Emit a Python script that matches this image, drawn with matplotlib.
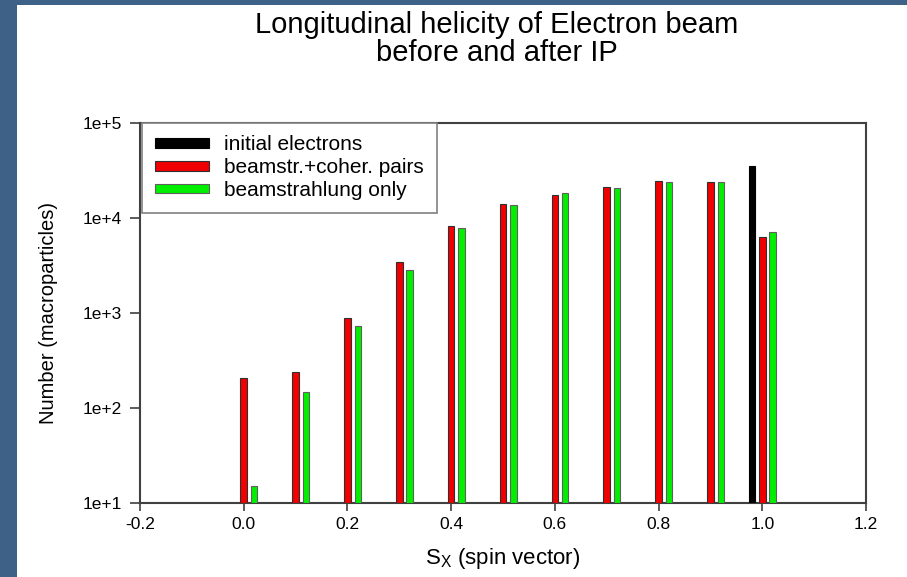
import matplotlib
matplotlib.use("Agg")
import matplotlib.pyplot as plt
from matplotlib.patches import Rectangle
from matplotlib.ticker import FixedLocator, FixedFormatter, NullLocator

plt.rcParams['font.family'] = ['Liberation Sans', 'DejaVu Sans']

# Data
initial_x = [0.98]
initial_vals = [35500]
coher_x = [0.0, 0.1, 0.2, 0.3, 0.4, 0.5, 0.6, 0.7, 0.8, 0.9, 1.0]
coher_vals = [205, 238, 890, 3440, 8180, 14150, 17400, 21200, 24500, 23900, 6270]
beam_x = [0.02, 0.12, 0.22, 0.32, 0.42, 0.52, 0.62, 0.72, 0.82, 0.92, 1.02]
beam_vals = [15, 148, 735, 2830, 7800, 13700, 18200, 20700, 23900, 23700, 7070]
labels = ["initial electrons", "beamstr.+coher. pairs", "beamstrahlung only"]
xticks = [-0.2, 0.0, 0.2, 0.4, 0.6, 0.8, 1.0, 1.2]
xticklabels = ["-0.2", "0.0", "0.2", "0.4", "0.6", "0.8", "1.0", "1.2"]
yticks = [1e1, 1e2, 1e3, 1e4, 1e5]
yticklabels = ["1e+1", "1e+2", "1e+3", "1e+4", "1e+5"]

W, H = 907, 577
fig = plt.figure(figsize=(W / 100, H / 100), dpi=100)
fig.patch.set_facecolor('#3e6287')
bg = Rectangle((17 / W, 0), 1 - 17 / W, 1 - 5 / H, transform=fig.transFigure,
               facecolor='white', edgecolor='none', zorder=-10)
fig.patches.append(bg)

ax = fig.add_axes([140 / W, 1 - 503 / H, (866 - 140) / W, (503 - 123) / H])
ax.set_zorder(5)
ax.set_facecolor('white')

bw = 0.0125
ax.bar(initial_x, initial_vals, width=bw, bottom=10, color='black', edgecolor='black',
       linewidth=0.8, label=labels[0], zorder=3)
ax.bar(coher_x, [v - 10 for v in coher_vals], width=bw, bottom=10, color='#f00000',
       edgecolor='#303030', linewidth=0.8, label=labels[1], zorder=3)
ax.bar(beam_x, [v - 10 for v in beam_vals], width=bw, bottom=10, color='#00f000',
       edgecolor='#606060', linewidth=0.8, label=labels[2], zorder=3)

ax.set_yscale('log')
ax.set_xlim(-0.2, 1.2)
ax.set_ylim(10, 1e5)
ax.xaxis.set_major_locator(FixedLocator(xticks))
ax.xaxis.set_major_formatter(FixedFormatter(xticklabels))
ax.yaxis.set_major_locator(FixedLocator(yticks))
ax.yaxis.set_major_formatter(FixedFormatter(yticklabels))
ax.yaxis.set_minor_locator(NullLocator())
ax.xaxis.set_minor_locator(NullLocator())
ax.tick_params(axis='y', direction='out', length=7, width=1.2, colors='#404040',
               labelcolor='black', labelsize=12.5, pad=6)
ax.tick_params(axis='x', direction='out', length=6, width=1.2, colors='#404040',
               labelcolor='black', labelsize=12.5, pad=4)
for s in ax.spines.values():
    s.set_color('#404040')
    s.set_linewidth(1.5)

ax.set_xlabel(r"S$_\mathregular{X}$ (spin vector)", fontsize=16, labelpad=10)
ax.set_ylabel("Number (macroparticles)", fontsize=14.5, labelpad=18)

fig.text(497 / W, 1 - 25 / H, "Longitudinal helicity of Electron beam", ha='center',
         va='center', fontsize=21)
fig.text(497 / W, 1 - 53 / H, "before and after IP", ha='center', va='center', fontsize=21)

leg = ax.legend(loc='upper left', bbox_to_anchor=(0.003, 1.0), borderaxespad=0,
                fontsize=15, handlelength=2.6, handleheight=0.33, handletextpad=0.75,
                labelspacing=0.18, borderpad=0.6, fancybox=False, framealpha=1,
                edgecolor='#808080')
leg.get_frame().set_linewidth(1.2)

fig.savefig("out.png", dpi=100, facecolor=fig.get_facecolor())
